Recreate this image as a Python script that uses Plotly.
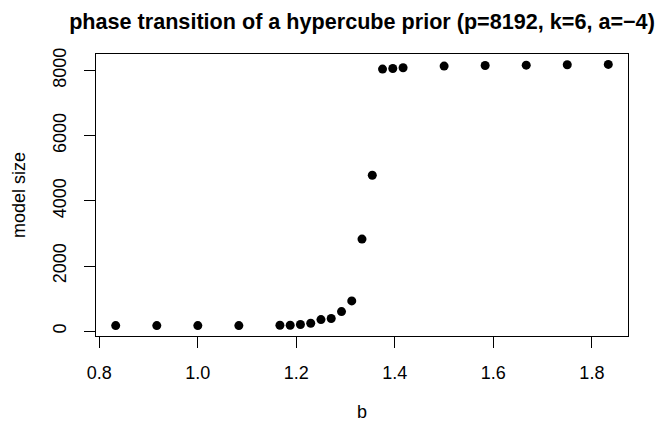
import plotly.graph_objects as go

b_values = [0.8333, 0.9167, 1.0, 1.0833, 1.1667, 1.1875, 1.2083, 1.2292, 1.25,
            1.2708, 1.2917, 1.3125, 1.3333, 1.3542, 1.375, 1.3958, 1.4167,
            1.5, 1.5833, 1.6667, 1.75, 1.8333]
model_size = [174, 174, 174, 174, 185, 185, 205, 246, 358,
              389, 603, 929, 2827, 4786, 8041, 8061, 8082,
              8133, 8153, 8163, 8173, 8184]

x_ticks = [0.8, 1.0, 1.2, 1.4, 1.6, 1.8]
y_ticks = [0, 2000, 4000, 6000, 8000]

FONT = "Liberation Sans, Arial, Helvetica, sans-serif"

# R-style 4% axis padding
xr = max(b_values) - min(b_values)
yr = max(model_size) - min(model_size)
x_range = [min(b_values) - 0.04 * xr, max(b_values) + 0.04 * xr]
y_range = [min(model_size) - 0.04 * yr, max(model_size) + 0.04 * yr]

fig = go.Figure()
fig.add_trace(go.Scatter(
    x=b_values, y=model_size, mode="markers",
    marker=dict(color="black", size=9, line=dict(width=0)),
    showlegend=False, hoverinfo="x+y",
))

fig.update_layout(
    width=658, height=427,
    margin=dict(l=96, r=30, t=54, b=91),
    paper_bgcolor="white", plot_bgcolor="white",
    font=dict(family=FONT, color="black", size=18),
    title=dict(
        text="<b>phase transition of a hypercube prior (p=8192, k=6, a=\u22124)</b>",
        x=362 / 658, xanchor="center",
        y=1 - 21 / 427, yanchor="middle",
        font=dict(family=FONT, size=21.6, color="black"),
    ),
    xaxis=dict(
        range=x_range, tickvals=x_ticks, ticktext=[f"{v:.1f}" for v in x_ticks],
        showgrid=False, zeroline=False,
        showline=True, mirror=True, linecolor="black", linewidth=1,
        ticks="outside", ticklen=11, tickcolor="black", tickwidth=1,
        ticklabelstandoff=9,
        tickfont=dict(size=18, color="black", family=FONT),
    ),
    yaxis=dict(
        range=y_range, tickvals=y_ticks, ticktext=[str(v) for v in y_ticks],
        tickangle=-90,
        showgrid=False, zeroline=False,
        showline=True, mirror=True, linecolor="black", linewidth=1,
        ticks="outside", ticklen=11, tickcolor="black", tickwidth=1,
        ticklabelstandoff=11,
        tickfont=dict(size=18, color="black", family=FONT),
    ),
    annotations=[
        dict(text="b", xref="paper", yref="paper", x=0.5, y=0,
             xanchor="center", yanchor="middle", yshift=-76, showarrow=False,
             font=dict(size=18, color="black", family=FONT)),
        dict(text="model size", xref="paper", yref="paper", x=0, y=0.5,
             xanchor="center", yanchor="middle", xshift=-77, showarrow=False,
             textangle=-90, font=dict(size=18, color="black", family=FONT)),
    ],
)

fig.write_html("out.html")
